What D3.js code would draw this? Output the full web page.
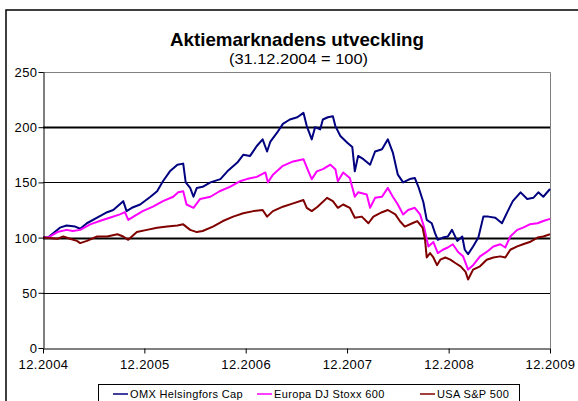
<!DOCTYPE html>
<html>
<head>
<meta charset="utf-8">
<script src="https://cdn.jsdelivr.net/npm/d3@7"></script>
<style>
  body { margin: 0; background: #fff; }
  svg { display: block; font-family: "Liberation Sans", Arial, sans-serif; }
</style>
</head>
<body>
<div id="chart"></div>
<script>
const W = 578;
const H = 401;
const margin = { t: 72, r: 28, b: 53, l: 43 };

// months since 31.12.2004 and index values (31.12.2004 = 100)
const omxMonths = [0, 0.6, 2.0, 2.8, 3.8, 4.4, 5.2, 6.4, 7.6, 8.3, 9.5, 9.9, 10.5, 11.5, 12.7, 13.5, 14.2, 15.0, 15.9, 16.6, 16.9, 17.4, 17.8, 18.2, 18.9, 19.8, 21.0, 21.8, 23.0, 23.7, 24.5, 25.3, 26.0, 26.5, 26.9, 27.7, 28.4, 29.2, 30.1, 30.8, 31.2, 31.8, 32.2, 32.8, 33.1, 33.7, 34.3, 34.6, 35.2, 36.0, 36.6, 36.9, 37.3, 37.9, 38.7, 39.3, 40.1, 40.8, 41.4, 42.0, 42.6, 43.4, 44.0, 44.4, 45.0, 45.4, 46.0, 46.4, 46.7, 47.3, 47.9, 48.4, 49.0, 49.6, 49.9, 50.3, 50.9, 51.5, 52.1, 52.7, 53.5, 54.3, 55.0, 55.6, 56.5, 57.3, 58.0, 58.6, 59.2, 60];
const omxValues = [100, 100, 109, 111, 110, 108, 113, 118, 123, 125, 133, 124, 127, 130, 137, 142, 151, 160, 166, 167, 150, 145, 137, 145, 146, 150, 153, 160, 168, 175, 174, 183, 189, 178, 187, 195, 203, 207, 209, 213, 201, 189, 200, 198, 207, 209, 210, 201, 192, 186, 182, 160, 174, 171, 166, 178, 180, 189, 177, 157, 150, 153, 154, 146, 132, 116, 113, 104, 98, 100, 101, 107, 97, 101, 89, 85, 92, 100, 119, 119, 118, 113, 124, 133, 141, 135, 136, 141, 137, 144];

const stoxxMonths = [0, 0.6, 1.7, 2.8, 3.5, 4.4, 5.6, 6.7, 7.9, 9.1, 9.7, 10.1, 10.7, 11.8, 13.0, 14.2, 15.4, 16.0, 16.6, 17.0, 17.8, 18.6, 19.8, 20.9, 22.1, 23.3, 24.1, 25.3, 26.3, 26.6, 27.2, 28.4, 29.6, 30.8, 31.4, 31.8, 32.4, 33.1, 34.0, 34.6, 34.9, 35.5, 36.3, 36.9, 37.3, 38.3, 38.7, 39.3, 40.1, 40.8, 41.4, 42.0, 42.6, 43.2, 44.0, 44.6, 45.1, 45.6, 46.2, 46.7, 47.3, 47.9, 48.5, 49.1, 49.7, 50.3, 50.9, 51.7, 52.5, 53.3, 54.1, 54.7, 55.3, 56.1, 56.8, 57.6, 58.5, 59.2, 60];
const stoxxValues = [100, 100, 105, 107, 106, 107, 112, 115, 118, 121, 123, 116, 119, 124, 128, 133, 137, 141, 142, 130, 127, 135, 137, 142, 146, 151, 153, 155, 159, 150, 157, 165, 169, 171, 160, 153, 160, 162, 166, 162, 151, 159, 154, 137, 141, 139, 127, 136, 137, 145, 137, 130, 121, 125, 127, 121, 109, 92, 96, 86, 89, 91, 94, 87, 83, 71, 75, 83, 87, 92, 94, 91, 101, 107, 109, 112, 113, 115, 117];

const spMonths = [0, 1.7, 2.4, 3.2, 4.0, 4.4, 5.2, 6.4, 7.6, 8.8, 9.5, 10.1, 11.1, 12.3, 13.5, 14.7, 15.9, 16.6, 17.4, 18.2, 18.9, 20.1, 21.3, 22.5, 23.7, 24.9, 26.0, 26.5, 27.2, 28.4, 29.6, 30.8, 31.2, 31.8, 32.5, 33.6, 34.3, 34.9, 35.5, 36.3, 36.9, 37.7, 38.5, 39.1, 40.1, 40.8, 41.7, 42.2, 42.8, 43.7, 44.3, 44.9, 45.2, 45.4, 45.8, 46.2, 46.6, 47.0, 47.6, 48.2, 48.8, 49.4, 50.0, 50.3, 50.9, 51.7, 52.5, 53.3, 54.1, 54.7, 55.3, 56.1, 56.8, 57.6, 58.5, 59.2, 60];
const spValues = [100, 99, 101, 99, 97, 95, 97, 101, 101, 103, 101, 98, 105, 107, 109, 110, 111, 112, 107, 105, 106, 110, 115, 119, 122, 124, 125, 119, 124, 128, 131, 134, 127, 124, 128, 136, 133, 127, 130, 127, 118, 119, 113, 119, 123, 125, 121, 115, 110, 113, 115, 109, 98, 82, 86, 82, 75, 80, 82, 80, 77, 74, 69, 62, 71, 74, 80, 82, 83, 82, 89, 92, 94, 96, 100, 101, 103];

const seriesNames = ['OMX Helsingfors Cap', 'Europa DJ Stoxx 600', 'USA S&P 500'];
const seriesColors = ['#000080', '#ff00ff', '#800000'];
const yTicks = [0, 50, 100, 150, 200, 250];
const xTickLabels = ['12.2004', '12.2005', '12.2006', '12.2007', '12.2008', '12.2009'];

const start = new Date(2004, 11, 31);
const toDate = m => d3.timeDay.offset(start, Math.round(m * 30.44));
const zip = (ms, vs) => ms.map((m, i) => ({ date: toDate(m), value: vs[i] }));
const series = [
  zip(omxMonths, omxValues),
  zip(stoxxMonths, stoxxValues),
  zip(spMonths, spValues)
];
const tickDates = xTickLabels.map((d, i) => new Date(2004 + i, 11, 31));

const svg = d3.select('#chart').append('svg')
  .attr('width', W)
  .attr('height', H);

// outer frame
svg.append('path')
  .attr('d', `M6,${H + 2} V10 H${W + 2}`)
  .attr('fill', 'none')
  .attr('stroke', '#000')
  .attr('stroke-width', 1.5);

const x = d3.scaleTime()
  .domain([tickDates[0], tickDates[tickDates.length - 1]])
  .range([margin.l, W - margin.r]);
const y = d3.scaleLinear()
  .domain([0, 250])
  .range([H - margin.b, margin.t]);

// title
svg.append('text')
  .attr('x', 170)
  .attr('y', 46)
  .attr('textLength', 254)
  .attr('lengthAdjust', 'spacingAndGlyphs')
  .style('font-size', '18.5px')
  .style('font-weight', 'bold')
  .text('Aktiemarknadens utveckling');

svg.append('text')
  .attr('x', 229)
  .attr('y', 64)
  .attr('textLength', 139)
  .attr('lengthAdjust', 'spacingAndGlyphs')
  .style('font-size', '15px')
  .text('(31.12.2004 = 100)');

// gridlines
svg.append('g')
  .selectAll('line')
  .data(yTicks.filter(d => d > 0 && d < 250))
  .enter().append('line')
  .attr('x1', margin.l)
  .attr('x2', W - margin.r)
  .attr('y1', d => Math.round(y(d)) + 0.5)
  .attr('y2', d => Math.round(y(d)) + 0.5)
  .attr('stroke', '#000')
  .attr('stroke-width', d => d % 100 === 0 ? 2 : 1);

// plot border (top / right)
svg.append('path')
  .attr('d', `M${margin.l},${Math.round(y(250)) + 0.5} H${W - margin.r + 0.5} V${y(0)}`)
  .attr('fill', 'none')
  .attr('stroke', '#808080')
  .attr('stroke-width', 1);

// lines
const line = d3.line()
  .x(d => x(d.date))
  .y(d => y(d.value));

svg.append('g')
  .selectAll('path')
  .data(series)
  .enter().append('path')
  .attr('d', line)
  .attr('fill', 'none')
  .attr('stroke', (d, i) => seriesColors[i])
  .attr('stroke-width', 2)
  .attr('stroke-linejoin', 'round');

// axes
const yAxis = d3.axisLeft(y)
  .tickValues(yTicks)
  .tickSize(5)
  .tickSizeOuter(0);
const gy = svg.append('g')
  .attr('transform', `translate(${margin.l + 0.5},0)`)
  .call(yAxis);

const xAxis = d3.axisBottom(x)
  .tickValues(tickDates)
  .tickFormat((d, i) => xTickLabels[i])
  .tickSize(5)
  .tickSizeOuter(0);
const gx = svg.append('g')
  .attr('transform', `translate(0,${Math.round(y(0)) + 0.5})`)
  .call(xAxis);

[gx, gy].forEach(g => {
  g.select('.domain').attr('stroke', '#000');
  g.selectAll('line').attr('stroke', '#000');
  g.selectAll('text')
    .attr('fill', '#000')
    .style('font-family', '"Liberation Sans", Arial, sans-serif')
    .style('font-size', '13px')
    .style('letter-spacing', '0.4px');
});
gy.selectAll('text').attr('x', -6).attr('dy', '0.35em');
gx.selectAll('text').attr('y', 9).attr('dy', '0.85em');

// legend
const legend = svg.append('g');
legend.append('rect')
  .attr('x', 98.5)
  .attr('y', 384.5)
  .attr('width', 421)
  .attr('height', 30)
  .attr('fill', '#fff')
  .attr('stroke', '#000');

const legendX = [113, 257, 420];
const items = legend.selectAll('g.item')
  .data(seriesNames)
  .enter().append('g')
  .attr('class', 'item')
  .attr('transform', (d, i) => `translate(${legendX[i]},394)`);

items.append('line')
  .attr('x1', 0)
  .attr('x2', 15)
  .attr('stroke', (d, i) => seriesColors[i])
  .attr('stroke-width', 1.5);

items.append('text')
  .attr('x', 17)
  .attr('dy', '0.35em')
  .style('font-size', '11px')
  .style('letter-spacing', '0.35px')
  .text(d => d);
</script>
</body>
</html>
